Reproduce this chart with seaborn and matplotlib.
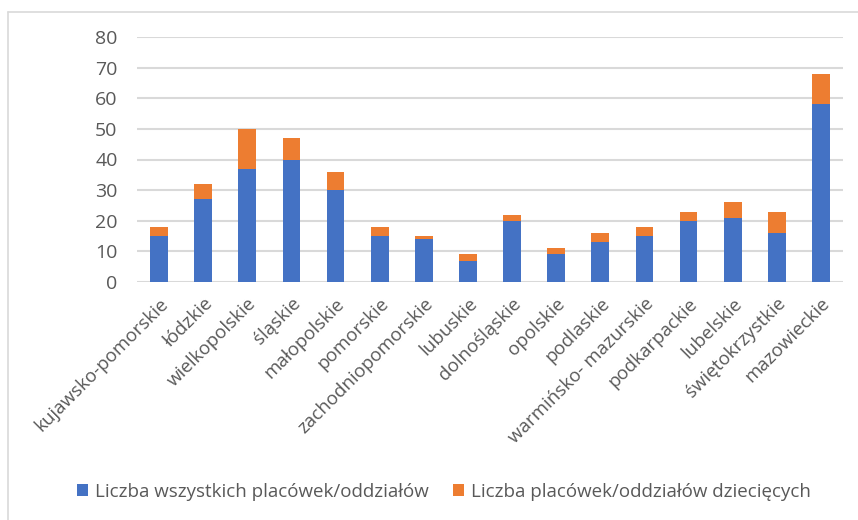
import matplotlib
matplotlib.use("Agg")
import matplotlib.pyplot as plt
import seaborn as sns
import pandas as pd
from matplotlib.patches import Patch
from matplotlib.lines import Line2D

categories = ["kujawsko-pomorskie", "łódzkie", "wielkopolskie", "śląskie", "małopolskie",
              "pomorskie", "zachodniopomorskie", "lubuskie", "dolnośląskie", "opolskie",
              "podlaskie", "warmińsko- mazurskie", "podkarpackie", "lubelskie",
              "świętokrzystkie", "mazowieckie"]
all_units = [15, 27, 37, 40, 30, 15, 14, 7, 20, 9, 13, 15, 20, 21, 16, 58]
child_units = [3, 5, 13, 7, 6, 3, 1, 2, 2, 2, 3, 3, 3, 5, 7, 10]
series_names = ["Liczba wszystkich placówek/oddziałów", "Liczba placówek/oddziałów dziecięcych"]
yticks = [0, 10, 20, 30, 40, 50, 60, 70, 80]

BLUE = "#4472C4"
ORANGE = "#ED7D31"
TEXT = "#595959"
FS = 13.5

sns.set_theme(style="white")
plt.rcParams["font.family"] = ["Open Sans", "DejaVu Sans"]

df = pd.DataFrame({"cat": categories, "all": all_units, "child": child_units})
df["total"] = df["all"] + df["child"]

fig = plt.figure(figsize=(8.58, 5.2), dpi=100)
ax = fig.add_axes([137/858, 1-282/520, (843-137)/858, (282-37)/520])

sns.barplot(data=df, x="cat", y="total", color=ORANGE, width=0.4, saturation=1,
            ax=ax, zorder=3, linewidth=0)
sns.barplot(data=df, x="cat", y="all", color=BLUE, width=0.4, saturation=1,
            ax=ax, zorder=3, linewidth=0)

ax.set_xlim(-0.5, len(categories) - 0.5)
ax.set_ylim(0, 80)
ax.set_yticks(yticks)
ax.set_yticklabels([str(v) for v in yticks], fontsize=14, color=TEXT)
ax.yaxis.grid(True, color="#D9D9D9", linewidth=1.5, zorder=0)
ax.set_axisbelow(True)
for s in ax.spines.values():
    s.set_visible(False)
ax.tick_params(axis="y", length=0, pad=14)
ax.tick_params(axis="x", length=0, pad=9)
ax.set_xlabel("")
ax.set_ylabel("")
ax.set_xticks(range(len(categories)))
ax.set_xticklabels(categories, rotation=45, ha="right", va="top",
                   rotation_mode="anchor", fontsize=FS, color=TEXT)

handles = [Patch(facecolor=BLUE, edgecolor="none"), Patch(facecolor=ORANGE, edgecolor="none")]
fig.legend(handles, series_names, loc="center", bbox_to_anchor=(0.517, 1-492/520),
           ncol=2, frameon=False, fontsize=FS, labelcolor=TEXT,
           handlelength=0.6, handleheight=0.6, handletextpad=0.35, columnspacing=1.3)

# outer chart frame (partially cropped)
fig.add_artist(Line2D([8/858, 8/858], [0, 1-12/520], color="#D9D9D9", linewidth=1.2,
                      transform=fig.transFigure))
fig.add_artist(Line2D([8/858, 1], [1-12/520, 1-12/520], color="#D9D9D9", linewidth=1.2,
                      transform=fig.transFigure))

fig.savefig("out.png", dpi=100)
